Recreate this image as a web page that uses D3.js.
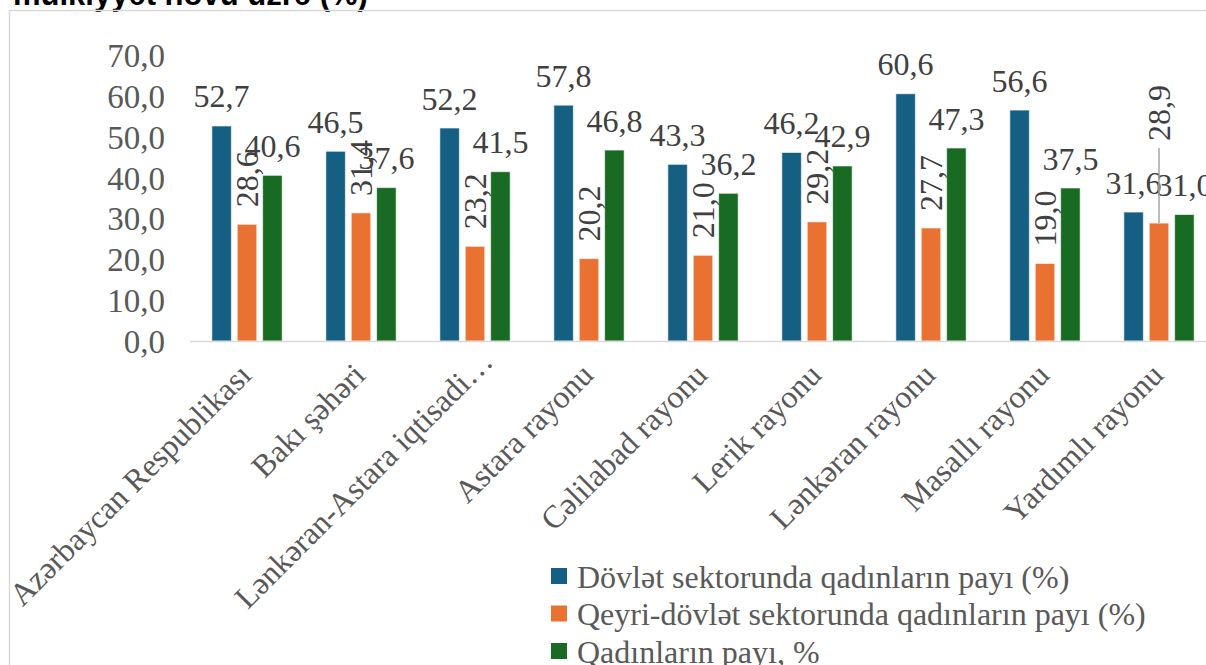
<!DOCTYPE html>
<html>
<head>
<meta charset="utf-8">
<script src="https://cdn.jsdelivr.net/npm/d3@7"></script>
<style>
  html, body { margin: 0; padding: 0; background: #ffffff; }
  svg { display: block; }
</style>
</head>
<body>
<svg id="chart" width="1206" height="665"></svg>
<script>
// ---- data ----
const categories = [
  "Azərbaycan Respublikası",
  "Bakı şəhəri",
  "Lənkəran-Astara iqtisadi…",
  "Astara rayonu",
  "Cəlilabad rayonu",
  "Lerik rayonu",
  "Lənkəran rayonu",
  "Masallı rayonu",
  "Yardımlı rayonu"
];
const seriesNames = [
  "Dövlət sektorunda qadınların payı (%)",
  "Qeyri-dövlət sektorunda qadınların payı (%)",
  "Qadınların payı, %"
];
const stateValues    = [52.7, 46.5, 52.2, 57.8, 43.3, 46.2, 60.6, 56.6, 31.6];
const nonStateValues = [28.6, 31.4, 23.2, 20.2, 21.0, 29.2, 27.7, 19.0, 28.9];
const womenValues    = [40.6, 37.6, 41.5, 46.8, 36.2, 42.9, 47.3, 37.5, 31.0];
const yTicks = [0, 10, 20, 30, 40, 50, 60, 70];
const titleText = "mülkiyyət növü üzrə (%)";

const seriesValues = [stateValues, nonStateValues, womenValues];
const colors = ["#156082", "#E97132", "#196B24"];

// ---- layout ----
const svg = d3.select("#chart");
const serif = "'Liberation Serif', 'Times New Roman', serif";
const fs = 32;

svg.append("rect").attr("width", 1206).attr("height", 665).attr("fill", "#fff");

// title (cut off at top)
svg.append("text")
  .attr("x", 13).attr("y", 5)
  .attr("font-family", "'Liberation Sans', Arial, sans-serif")
  .attr("font-weight", "bold")
  .attr("font-size", 31)
  .attr("fill", "#000")
  .text(titleText);

// chart frame
svg.append("rect")
  .attr("x", 9.5).attr("y", 10.5)
  .attr("width", 1300).attr("height", 800)
  .attr("fill", "none")
  .attr("stroke", "#d9d9d9")
  .attr("stroke-width", 1.5);

const plotLeft = 190, step = 114;
const x0 = d3.scaleBand().domain(categories)
  .range([plotLeft, plotLeft + step * categories.length]).padding(0);
const x1 = d3.scaleBand().domain(d3.range(3))
  .range([0, x0.bandwidth()]).paddingInner(0.232).paddingOuter(0.86);
const y = d3.scaleLinear().domain([0, 70]).range([341, 55.4]);

// y axis labels
const yAxis = d3.axisLeft(y).tickValues(yTicks)
  .tickFormat(d => d3.format(".1f")(d).replace(".", ","))
  .tickSize(0).tickPadding(0);
const gy = svg.append("g").attr("transform", "translate(165,0)").call(yAxis);
gy.select(".domain").remove();
gy.selectAll("text")
  .attr("font-family", serif).attr("font-size", 33)
  .attr("fill", "#595959").attr("dy", "0.34em");

// bars
const groups = svg.append("g").selectAll("g")
  .data(categories).join("g")
  .attr("transform", d => `translate(${x0(d)},0)`);

groups.selectAll("rect")
  .data((d, i) => seriesValues.map((vals, s) => ({ s, v: vals[i], ci: i })))
  .join("rect")
  .attr("x", d => x1(d.s))
  .attr("width", x1.bandwidth())
  .attr("y", d => y(d.v))
  .attr("height", d => y(0) - y(d.v))
  .attr("fill", d => colors[d.s])
  .attr("stroke", "#ffffff")
  .attr("stroke-opacity", 0.6)
  .attr("stroke-width", 1);

// x axis line
svg.append("line")
  .attr("x1", plotLeft).attr("x2", 1206)
  .attr("y1", y(0) + 0.5).attr("y2", y(0) + 0.5)
  .attr("stroke", "#d9d9d9").attr("stroke-width", 1.5);

// data labels
const fmt = v => d3.format(".1f")(v).replace(".", ",");
const labelG = svg.append("g")
  .attr("font-family", serif).attr("font-size", fs).attr("fill", "#404040");

categories.forEach((c, i) => {
  [0, 2].forEach(s => {
    const cx = x0(c) + x1(s) + x1.bandwidth() / 2;
    labelG.append("text")
      .attr("x", cx).attr("y", y(seriesValues[s][i]) - 18.5)
      .attr("text-anchor", "middle")
      .text(fmt(seriesValues[s][i]));
  });
  // rotated orange label
  const cx = x0(c) + x1(1) + x1.bandwidth() / 2;
  const top = y(seriesValues[1][i]);
  const lifted = i === categories.length - 1;
  const ty = lifted ? top - 82 : top - 17;
  if (lifted) {
    labelG.append("line")
      .attr("x1", cx).attr("x2", cx)
      .attr("y1", top).attr("y2", ty + 7)
      .attr("stroke", "#a6a6a6").attr("stroke-width", 1.5);
  }
  labelG.append("text")
    .attr("transform", `translate(${cx},${ty}) rotate(-90)`)
    .attr("dy", "0.34em")
    .attr("text-anchor", "start")
    .text(fmt(seriesValues[1][i]));
});

// category labels (rotated, long labels keep a fixed start position)
const maxLabelLen = 330;
const catText = svg.append("g").selectAll("text")
  .data(categories).join("text")
  .attr("text-anchor", "end")
  .attr("font-family", serif).attr("font-size", fs)
  .attr("fill", "#595959")
  .text(d => d);
catText.each(function(d) {
  const len = this.getComputedTextLength();
  const extra = Math.max(0, len - maxLabelLen) * Math.SQRT1_2;
  const ax = x0(d) + x0.bandwidth() / 2 + 6 + extra;
  const ay = 377 - extra;
  d3.select(this).attr("transform", `translate(${ax},${ay}) rotate(-45)`);
});

// legend
const leg = svg.append("g").attr("transform", "translate(551,568)");
seriesNames.forEach((n, i) => {
  const g = leg.append("g").attr("transform", `translate(0,${i * 37.5})`);
  g.append("rect").attr("width", 16).attr("height", 16).attr("fill", colors[i]);
  g.append("text").attr("x", 26).attr("y", 8).attr("dy", "0.36em")
    .attr("font-family", serif).attr("font-size", fs)
    .attr("fill", "#595959").text(n);
});
</script>
</body>
</html>
